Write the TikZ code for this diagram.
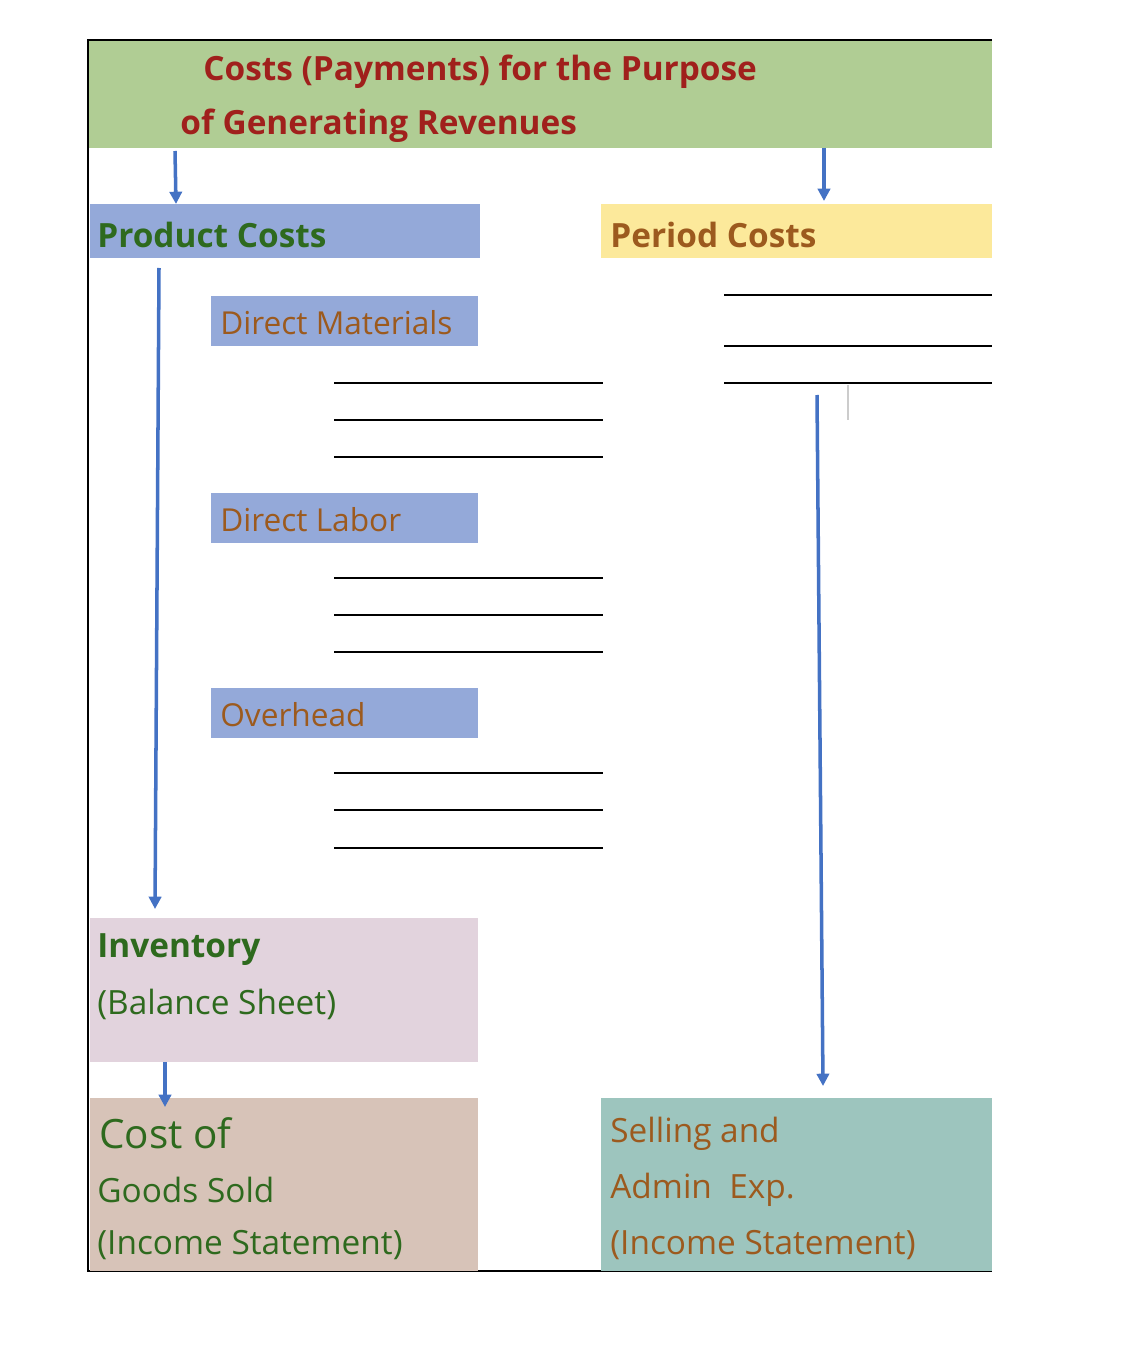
\documentclass[tikz,border=0pt]{standalone}
\usepackage{fontspec}
\setmainfont{Open Sans}
\usetikzlibrary{arrows.meta}
\definecolor{tgreen}{HTML}{B0CD94}
\definecolor{tred}{HTML}{A0201C}
\definecolor{pblue}{HTML}{94A9D9}
\definecolor{pyel}{HTML}{FCE99B}
\definecolor{dgreen}{HTML}{2E6A1E}
\definecolor{brown}{HTML}{9C5A1E}
\definecolor{inv}{HTML}{E2D3DD}
\definecolor{cogs}{HTML}{D7C3B8}
\definecolor{sell}{HTML}{9DC5BE}
\definecolor{arr}{HTML}{4472C4}
\begin{document}
\begin{tikzpicture}[x=0.02cm,y=-0.02cm,
 box/.style={draw=none,inner sep=0,outer sep=0},
 ln/.style={line width=1.5pt},
 ar/.style={draw=arr,line width=2pt,-{Triangle[length=7pt,width=7pt]}},
 txt/.style={anchor=west,inner sep=0},
 big/.style={font=\fontsize{19}{22}\selectfont},
 bigb/.style={font=\fontsize{19}{22}\selectfont\bfseries}]
\useasboundingbox (0,0) rectangle (1125,1371);
\fill[tgreen] (88,40) rectangle (992,148);
\node[txt,text=tred,bigb] (t1) at (203,72) {Costs (Payments) for the Purpose};
\node[txt,text=tred,bigb] (t2) at (180,126) {of Generating Revenues};
\draw[line width=1pt] (992,40) -- (88,40) -- (88,1271) -- (992,1271);
% product / period
\fill[pblue] (90,204) rectangle (480,258);
\node[txt,text=dgreen,bigb] (pc) at (97,235) {Product Costs};
\fill[pyel] (601,204) rectangle (992,258);
\node[txt,text=brown,bigb] (per) at (610,235) {Period Costs};
% sub boxes
\foreach \y/\t in {296/Direct Materials,493/Direct Labor,688/Overhead}{
 \fill[pblue] (211,\y) rectangle (478,\y+50);
 \node[txt,text=brown,font=\fontsize{18}{22}\selectfont] at (220,\y+27) {\t};
}
\foreach \y in {383,420,457,578,615,652,773,810,848} \draw[ln] (334,\y) -- (603,\y);
\foreach \y in {295,346,383} \draw[ln] (724,\y) -- (992,\y);
\draw[gray!40,line width=0.6pt] (848,385) -- (848,420);
% bottom boxes
\fill[inv] (90,918) rectangle (478,1062);
\node[txt,text=dgreen,bigb] at (97,950) {Inventory};
\node[txt,text=dgreen,big] at (97,1004) {(Balance Sheet)};
\fill[cogs] (90,1098) rectangle (478,1271);
\node[txt,text=dgreen,font=\fontsize{23}{28}\selectfont] at (99,1133) {Cost of};
\node[txt,text=dgreen,big] at (97,1190) {Goods Sold};
\node[txt,text=dgreen,big] at (97,1245) {(Income Statement)};
\fill[sell] (601,1098) rectangle (992,1271);
\node[txt,text=brown,big] at (610,1134) {Selling and};
\node[txt,text=brown,big] at (610,1190) {Admin\ \ Exp.};
\node[txt,text=brown,big] at (610,1245) {(Income Statement)};
% arrows
\coordinate (a1) at (175,151); \coordinate (a2) at (176,204);
\coordinate (b1) at (824,148); \coordinate (b2) at (824,201);
\coordinate (c1) at (159,268); \coordinate (c2) at (155,909);
\coordinate (d1) at (817,395); \coordinate (d2) at (823,1086);
\coordinate (e1) at (165,1062); \coordinate (e2) at (165,1107);
\draw[ar] (a1) -- (a2);
\draw[ar] (b1) -- (b2);
\draw[ar] (c1) -- (c2);
\draw[ar] (d1) -- (d2);
\draw[ar] (e1) -- (e2);
\end{tikzpicture}
\end{document}
